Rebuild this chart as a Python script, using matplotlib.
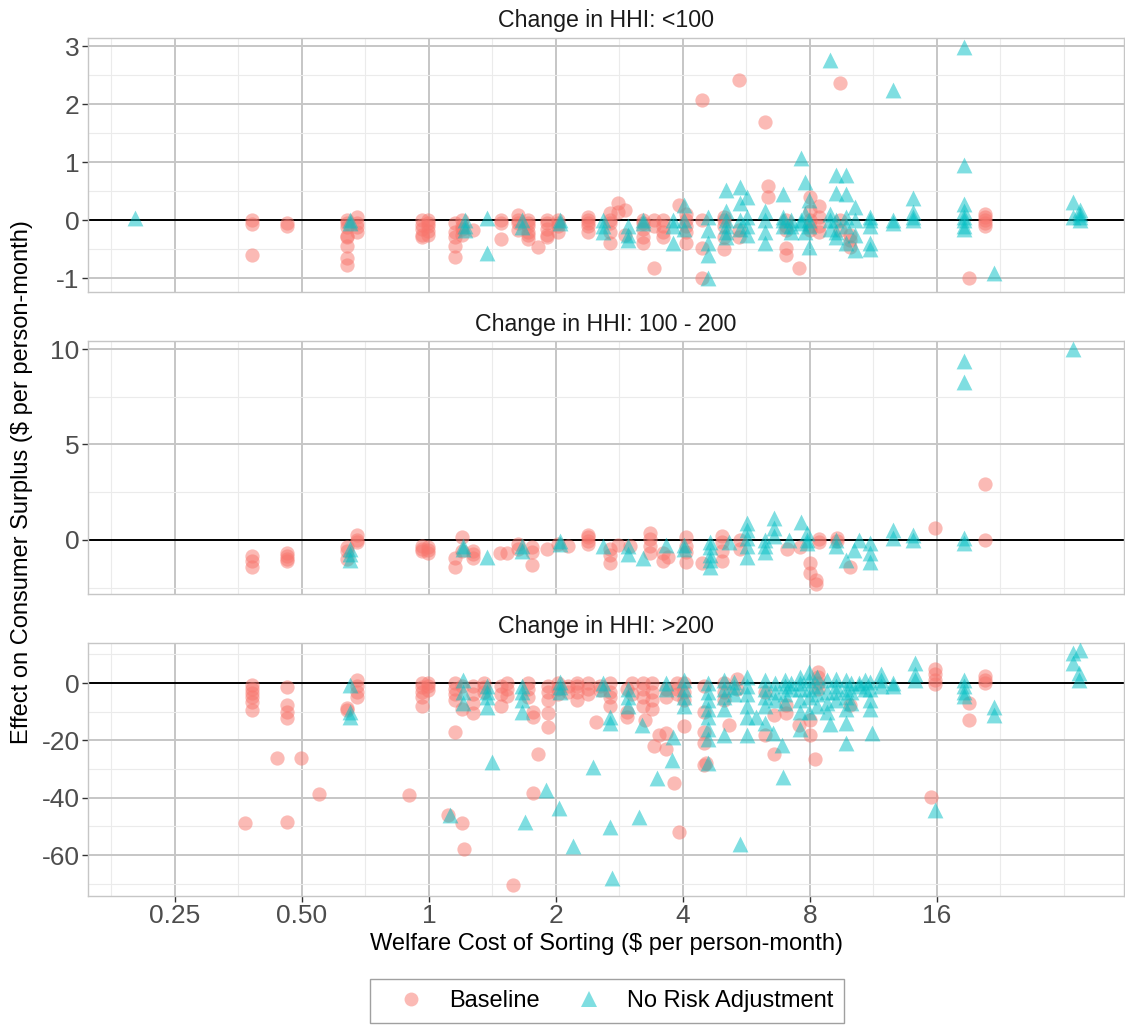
import matplotlib
matplotlib.use("Agg")
import matplotlib.pyplot as plt
from matplotlib.lines import Line2D
from matplotlib.ticker import FixedLocator, FixedFormatter, NullFormatter
import numpy as np

plt.rcParams["font.family"] = ["Liberation Sans", "DejaVu Sans"]

# Welfare cost of sorting (x) -> list of effects on consumer surplus (y)
# Panel 1: change in HHI < 100
lt100_base = {
    0.382: [0.0, -0.07, -0.6],
    0.461: [-0.05, -0.1],
    0.639: [0.0, -0.05, -0.12, -0.3, -0.28, -0.45, -0.65, -0.77],
    0.675: [0.05, -0.05, -0.12, -0.2],
    0.962: [0.0, -0.08, -0.15, -0.25, -0.3],
    0.995: [0.0, -0.05, -0.1, -0.18, -0.25],
    1.152: [-0.05, -0.2, -0.3, -0.45, -0.63],
    1.197: [0.0, -0.1, -0.25, -0.15],
    1.271: [-0.17],
    1.481: [0.0, -0.05, -0.33],
    1.625: [0.08, 0.0, -0.05, -0.17],
    1.717: [0.0, -0.05, -0.1, -0.2, -0.25, -0.33],
    1.813: [-0.47],
    1.904: [0.0, -0.05, -0.15, -0.25, -0.3],
    2.022: [0.0, -0.05, -0.1, -0.2],
    2.382: [0.05, 0.0, -0.05, -0.1, -0.2],
    2.685: [0.12, 0.0, -0.05, -0.2, -0.4],
    2.806: [0.3, 0.14],
    2.916: [0.17, -0.25],
    3.215: [0.0, -0.05, -0.15, -0.3, -0.4],
    3.415: [-0.83, -0.1, 0.0],
    3.587: [0.0, -0.1, -0.2, -0.3],
    3.914: [0.26],
    4.066: [0.1, 0.0, -0.1, -0.2, -0.4],
    4.437: [2.07, 0.0, -0.48, -1.0],
    5.004: [0.05, -0.1, -0.3, -0.5, 0.0],
    5.428: [2.41, -0.17, -0.3],
    6.258: [1.69],
    6.357: [0.59, 0.4],
    7.018: [0.0, -0.1, -0.17, -0.48, -0.6],
    7.533: [-0.83],
    8.0: [0.4, 0.15, 0.0, -0.1, -0.17],
    8.40: [0.25, 0.05, -0.1, -0.2],
    9.42: [2.36, 0.0, -0.17],
    9.95: [-0.25, -0.47, -0.35],
    19.05: [-1.0],
    20.79: [0.1, 0.05, 0.0, -0.05, -0.1],
}
lt100_nra = {
    0.201: [0.03],
    0.650: [-0.05, 0.0],
    1.217: [0.0, -0.17, -0.1],
    1.372: [0.03, -0.57],
    1.661: [-0.12, 0.0],
    2.044: [0.0, -0.05],
    2.585: [0.0, -0.1, -0.2],
    2.964: [-0.1, -0.25, -0.35],
    3.215: [0.0, -0.05],
    3.788: [-0.4, 0.0, -0.1],
    4.022: [0.26, 0.0, -0.15],
    4.585: [0.05, -0.17, -0.4, -0.6, -1.0],
    5.059: [0.52, 0.15, 0.0, -0.1, -0.2, -0.3],
    5.457: [0.57, 0.3, 0.0, -0.15],
    5.673: [0.4, 0.05, -0.1, -0.25],
    6.258: [0.15, 0.0, -0.2, -0.4],
    6.905: [0.45, 0.05, 0.0, -0.1],
    7.213: [0.0, -0.1, -0.2],
    7.616: [1.07, 0.0, -0.05],
    7.785: [0.66, 0.1, -0.2],
    7.957: [0.35, -0.47, 0.0, -0.1],
    8.92: [2.76, 0.1, 0.0, -0.15],
    9.22: [0.78, 0.47, 0.0, -0.2, -0.3],
    9.74: [0.77, 0.45, 0.05, -0.1, -0.4],
    10.22: [0.22, 0.0, -0.25, -0.52],
    11.1: [0.05, 0.0, -0.1, -0.4, -0.5],
    12.59: [2.24, 0.0, -0.05],
    14.03: [0.38, 0.14, 0.05, 0.0],
    18.54: [2.98, 0.95, 0.28, 0.15, 0.05, 0.0, -0.1, -0.15],
    21.84: [-0.92],
    33.6: [0.32, 0.05],
    35.0: [0.18, 0.1, 0.05, 0.0],
}

# Panel 2: change in HHI 100 - 200
mid_base = {
    0.382: [-0.85, -1.1, -1.4],
    0.461: [-0.7, -0.85, -1.0, -1.1],
    0.639: [-0.4, -0.6, -1.0],
    0.675: [0.25, 0.0, -0.1],
    0.962: [-0.35, -0.5, -0.6],
    0.995: [-0.4, -0.55, -0.7],
    1.152: [-0.95, -1.4],
    1.197: [0.15, -0.6],
    1.271: [-0.6, -0.95, -0.75],
    1.473: [-0.7],
    1.531: [-0.7],
    1.625: [-0.2, -0.5],
    1.754: [-0.4, -0.65, -1.3],
    1.904: [-0.5],
    2.022: [-0.2],
    2.135: [-0.35],
    2.382: [0.25, 0.15, -0.05, -0.2],
    2.685: [-0.5, -0.8, -1.2],
    2.806: [-0.25],
    2.996: [-0.35],
    3.341: [0.35, 0.05, -0.3, -0.7],
    3.587: [-0.7, -1.1],
    3.686: [-0.9],
    4.066: [0.15, -0.3, -0.65, -1.15],
    4.437: [-1.2],
    4.95: [0.2, -0.1, -0.6, -1.1],
    5.457: [0.0, -0.5],
    7.057: [-0.5],
    7.574: [-0.4],
    8.0: [-1.2, -1.75],
    8.265: [-2.1, -2.3],
    8.40: [0.05, -0.1],
    9.27: [0.1, -0.05],
    9.95: [-1.4],
    15.83: [0.6],
    20.79: [2.9, 0.0],
}
mid_nra = {
    0.650: [-0.5, -0.75, -1.05],
    1.204: [-0.3, -0.5],
    1.372: [-0.9],
    1.661: [-0.35, -0.6],
    2.044: [-0.2, -0.05],
    2.585: [-0.35],
    2.964: [-0.3, -0.75],
    3.215: [-0.95],
    3.646: [-0.25],
    4.022: [-0.25, -0.5],
    4.636: [-0.1, -0.4, -0.8, -1.05, -1.4],
    5.142: [-0.1],
    5.673: [0.9, 0.5, 0.1, -0.3, -0.9],
    6.258: [0.0, -0.3, -0.65],
    6.574: [1.15, 0.6, 0.2],
    7.134: [0.0],
    7.616: [0.95],
    7.871: [0.35, 0.0, -0.15],
    9.22: [0.0, -0.3],
    9.74: [-1.05],
    10.17: [-0.55],
    10.45: [0.0],
    11.1: [-0.15, -0.7, -1.15],
    12.59: [0.5, 0.1],
    14.03: [0.25, 0.0],
    18.54: [9.35, 8.25, 0.1, -0.15],
    33.6: [10.0],
}

# Panel 3: change in HHI > 200
gt200_base = {
    0.366: [-48.9],
    0.382: [-0.7, -2.0, -3.5, -5.0, -6.5, -9.4],
    0.436: [-26.0],
    0.461: [-1.3, -7.7, -10.0, -12.2, -48.5],
    0.497: [-26.0],
    0.549: [-38.7],
    0.639: [-8.7, -9.5],
    0.675: [1.0, -1.0, -3.0, -5.0],
    0.897: [-39.0],
    0.962: [0.0, -1.5, -3.0, -5.0, -8.0],
    0.995: [0.0, -1.0, -2.5],
    1.109: [-46.0],
    1.152: [-17.0, 0.0, -2.0, -4.0, -6.0],
    1.197: [-49.0, -1.0, -9.0],
    1.211: [-58.0],
    1.271: [-1.0, -4.0, -7.0, -10.5],
    1.35: [0.0, -1.5, -3.0],
    1.481: [-1.0, -4.0, -8.0],
    1.531: [0.0, -2.0, -4.5],
    1.581: [-70.5],
    1.717: [0.0, -2.0, -5.0],
    1.764: [-10.0, -12.0, -38.4],
    1.813: [-24.8],
    1.915: [-1.0, -3.0, -6.0, -10.5, -15.5],
    2.022: [0.0, -2.0, -4.0],
    2.135: [-1.0, -3.0],
    2.25: [0.0, -1.0, -3.0, -6.0],
    2.382: [0.0, -2.0, -4.0],
    2.488: [-13.6],
    2.55: [-1.0, -2.5],
    2.685: [0.0, -3.0, -5.0, -8.0],
    2.948: [-10.0, -12.0, -2.0],
    3.029: [0.0, -4.0],
    3.215: [0.0, -2.0, -5.0, -8.0],
    3.25: [-13.0],
    3.38: [0.0, -3.0, -6.0, -9.0],
    3.415: [-22.0],
    3.51: [-18.0],
    3.646: [-17.5, -23.0, -2.0, -5.0],
    3.808: [-35.0],
    3.88: [0.0, -2.0, -4.0],
    3.914: [-52.0],
    4.022: [-15.0, 0.0, -3.0, -6.0],
    4.486: [-10.0, -17.0, -21.0, -28.5, -1.0],
    4.535: [-28.0],
    5.004: [0.0, -3.0, -6.0],
    5.142: [-14.7],
    5.37: [1.5, -2.0],
    6.258: [-18.0, -3.0],
    6.574: [-11.0, -24.8],
    7.018: [-7.5, -10.5],
    7.533: [-14.7],
    8.0: [-13.0, -18.0],
    8.22: [-26.5],
    8.355: [3.8, 2.0, 0.0, -2.0],
    9.95: [-7.7],
    15.49: [-39.6],
    15.83: [5.0, 3.0, 1.0, -0.2],
    19.05: [-7.0, -13.0],
    20.79: [2.3, 1.0, 0.0],
}
gt200_nra = {
    0.650: [-0.7, -10.0, -11.8],
    1.121: [-46.0],
    1.204: [1.0, -3.0, -7.0],
    1.372: [-1.0, -3.0, -5.0, -8.5],
    1.410: [-27.5],
    1.661: [-1.0, -3.0, -6.0, -10.0],
    1.689: [-48.5],
    1.893: [-37.3],
    2.033: [-43.6],
    2.044: [0.5, -1.5, -3.0],
    2.195: [-56.9],
    2.447: [-29.3],
    2.585: [0.0, -2.0],
    2.685: [-12.0, -14.0, -50.3],
    2.715: [-68.0],
    2.964: [-2.0, -5.0, -8.0],
    3.146: [-46.8],
    3.198: [-14.7],
    3.471: [-33.3],
    3.646: [0.0, -2.0],
    3.767: [-27.0],
    3.788: [-18.8],
    4.022: [1.0, -2.0, -5.0, -8.0],
    4.585: [0.0, -3.0, -6.0, -9.0, -12.0, -16.0, -19.5, -28.0],
    5.004: [1.0, -2.0, -5.0, -9.0, -18.0],
    5.3: [0.5, -1.5, -4.0],
    5.457: [-56.0],
    5.673: [2.0, -1.0, -4.0, -8.0, -12.0, -18.0],
    5.958: [-11.8],
    6.258: [1.0, -2.0, -5.0, -8.0, -14.0],
    6.538: [-17.5],
    6.6: [0.0, -3.0, -6.0],
    6.867: [-21.6],
    6.905: [-32.8],
    7.0: [1.0, -1.0, -4.0, -7.0],
    7.213: [0.0, -2.0],
    7.574: [2.0, 0.0, -2.0, -6.0, -10.0, -16.0],
    7.957: [4.0, 1.0, -2.0, -5.0, -10.0],
    8.3: [2.0, -1.0, -4.0, -8.0],
    8.773: [1.0, -3.0, -7.0, -10.0],
    8.92: [-14.2],
    9.2: [1.5, -1.0, -3.0, -6.0],
    9.74: [1.0, -2.0, -5.0, -9.0, -14.0, -21.0],
    10.0: [0.0, -3.0, -7.0],
    10.45: [0.0, -1.0],
    10.8: [1.0, -2.0],
    11.1: [0.5, -2.0, -6.0, -9.0],
    11.22: [-17.5],
    11.79: [3.0, 1.0, -1.0],
    12.59: [0.0, -1.0],
    14.2: [7.0, 3.0, 1.0],
    15.83: [-44.3],
    18.54: [1.0, -1.0, -3.0, -4.5],
    21.84: [-8.4, -11.0],
    33.6: [10.5, 7.0],
    34.7: [3.5, 1.0],
    35.0: [11.5],
}

x_ticks = [0.25, 0.5, 1, 2, 4, 8, 16]
x_tick_labels = ["0.25", "0.50", "1", "2", "4", "8", "16"]
x_minor = [2 ** (k + 0.5) for k in range(-3, 5)] + [32]

panels = [
    ("Change in HHI: <100", lt100_base, lt100_nra, (-1.24, 3.14),
     [-1, 0, 1, 2, 3], [-0.5, 0.5, 1.5, 2.5]),
    ("Change in HHI: 100 - 200", mid_base, mid_nra, (-2.84, 10.42),
     [0, 5, 10], [-2.5, 2.5, 7.5]),
    ("Change in HHI: >200", gt200_base, gt200_nra, (-74.3, 13.96),
     [-60, -40, -20, 0], [-70, -50, -30, -10, 10]),
]

BASE_COL = "#F8766D"
NRA_COL = "#00BFC4"
GRID_MAJOR = "#C6C6C6"
GRID_MINOR = "#EBEBEB"


def expand(d):
    xs, ys = [], []
    for x, vals in d.items():
        xs += [x] * len(vals)
        ys += vals
    return np.array(xs), np.array(ys)


W_PX, H_PX = 1125, 1026
fig = plt.figure(figsize=(W_PX / 100, H_PX / 100), dpi=100)
left_px, right_px = 88, 1124
boxes = [(38, 292), (341, 594), (643, 896)]

for i, (title, base, nra, ylim, yt, ym) in enumerate(panels):
    top, bot = boxes[i]
    ax = fig.add_axes([left_px / W_PX, 1 - bot / H_PX,
                       (right_px - left_px) / W_PX, (bot - top) / H_PX])
    ax.set_xscale("log", base=2)
    ax.set_xlim(0.1557, 44.4)
    ax.set_ylim(*ylim)

    ax.xaxis.set_major_locator(FixedLocator(x_ticks))
    ax.xaxis.set_minor_locator(FixedLocator(x_minor))
    ax.xaxis.set_minor_formatter(NullFormatter())
    ax.yaxis.set_major_locator(FixedLocator(yt))
    ax.yaxis.set_major_formatter(FixedFormatter([str(v) for v in yt]))
    ax.yaxis.set_minor_locator(FixedLocator(ym))

    ax.grid(which="major", color=GRID_MAJOR, linewidth=1.4, zorder=0)
    ax.grid(which="minor", color=GRID_MINOR, linewidth=0.8, zorder=0)
    ax.set_axisbelow(True)
    for s in ax.spines.values():
        s.set_color("#C6C6C6")
        s.set_linewidth(1.0)

    ax.tick_params(which="minor", length=0)
    ax.tick_params(axis="y", which="major", length=4, width=1, color="#333333",
                   labelsize=19, labelcolor="#4D4D4D", pad=2)
    if i == 2:
        ax.xaxis.set_major_formatter(FixedFormatter(x_tick_labels))
        ax.tick_params(axis="x", which="major", length=4, width=1, color="#333333",
                       labelsize=19, labelcolor="#4D4D4D", pad=2)
    else:
        ax.tick_params(axis="x", which="major", length=0, labelbottom=False)

    ax.axhline(0, color="black", linewidth=1.4, zorder=1)

    bx, by = expand(base)
    nx, ny = expand(nra)
    ax.scatter(bx, by, s=105, marker="o", color=BASE_COL, alpha=0.5,
               linewidths=0, zorder=2)
    ax.scatter(nx, ny, s=130, marker="^", color=NRA_COL, alpha=0.5,
               linewidths=0, zorder=3)

    ax.text(0.5, 1 + 17 / (bot - top), title, transform=ax.transAxes,
            ha="center", va="center", fontsize=16.7, color="#1A1A1A")

fig.text(606 / W_PX, 1 - 944 / H_PX, "Welfare Cost of Sorting ($ per person-month)",
         ha="center", va="center", fontsize=17, color="black")
fig.text(22 / W_PX, 1 - 482 / H_PX, "Effect on Consumer Surplus ($ per person-month)",
         ha="center", va="center", rotation=90, fontsize=17, color="black")

handles = [
    Line2D([], [], marker="o", linestyle="none", color=BASE_COL, alpha=0.5,
           markersize=10, markeredgewidth=0),
    Line2D([], [], marker="^", linestyle="none", color=NRA_COL, alpha=0.5,
           markersize=11, markeredgewidth=0),
]
leg = fig.legend(handles, ["Baseline", "No Risk Adjustment"], loc="center",
                 bbox_to_anchor=(607 / W_PX, 1 - 1001 / H_PX), ncol=2,
                 fontsize=17, frameon=True, fancybox=False, edgecolor="#888888",
                 handlelength=2.6, handletextpad=0.3, columnspacing=0.8,
                 borderpad=0.45, borderaxespad=0)
leg.get_frame().set_linewidth(1.0)

fig.savefig("out.png", dpi=100)
